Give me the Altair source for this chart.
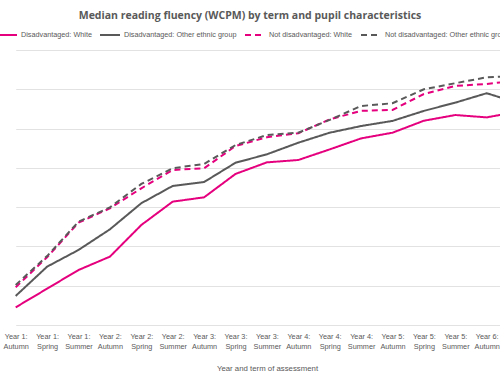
import altair as alt
import pandas as pd

# Assessment points (term of each school year)
terms = [
    "Year 1: Autumn", "Year 1: Spring", "Year 1: Summer",
    "Year 2: Autumn", "Year 2: Spring", "Year 2: Summer",
    "Year 3: Autumn", "Year 3: Spring", "Year 3: Summer",
    "Year 4: Autumn", "Year 4: Spring", "Year 4: Summer",
    "Year 5: Autumn", "Year 5: Spring", "Year 5: Summer",
    "Year 6: Autumn", "Year 6: Spring",
]

series_names = [
    "Disadvantaged: White",
    "Disadvantaged: Other ethnic group",
    "Not disadvantaged: White",
    "Not disadvantaged: Other ethnic group",
]

# Median words correct per minute for each group
dis_white = [9.0, 18.5, 28.0, 34.8, 50.9, 62.8, 65.0, 76.9, 82.8, 84.0, 89.4, 95.0, 97.9, 104.0, 106.9, 105.7, 108.6]
dis_other = [14.8, 29.7, 38.2, 48.7, 62.0, 70.8, 72.8, 82.6, 86.9, 92.8, 97.9, 101.3, 103.9, 109.0, 113.2, 118.0, 113.0]
not_white = [19.2, 34.5, 52.1, 59.4, 69.6, 78.9, 79.8, 91.1, 95.6, 97.6, 104.7, 109.0, 109.5, 117.6, 121.7, 122.7, 124.5]
not_other = [20.4, 35.1, 52.6, 59.9, 71.8, 79.8, 82.0, 91.6, 96.7, 97.9, 104.4, 111.5, 112.9, 120.0, 123.1, 126.1, 126.9]

y_grid = [0, 20, 40, 60, 80, 100, 120, 140]

line_colors = ["#E5007E", "#595959", "#E5007E", "#595959"]
line_dashes = [[1, 0], [1, 0], [6, 4], [6, 4]]

rows = []
for name, values in zip(series_names, [dis_white, dis_other, not_white, not_other]):
    for term, v in zip(terms, values):
        rows.append({"term": term, "series": name, "wcpm": v})
df = pd.DataFrame(rows)

TEXT = "#595959"
LABEL_FONT = "Liberation Sans"

legend = alt.Legend(
    title=None,
    orient="none",
    direction="horizontal",
    legendX=-4,
    legendY=-26,
    columns=4,
    columnPadding=4,
    gridAlign="none",
    padding=0,
    symbolType="stroke",
    symbolSize=400,
    symbolStrokeWidth=2,
    labelOffset=3,
    labelFont=LABEL_FONT,
    labelFontSize=7.25,
    labelColor=TEXT,
    labelLimit=300,
)

chart = (
    alt.Chart(df)
    .mark_line(strokeWidth=2, clip=True)
    .encode(
        x=alt.X(
            "term:O",
            sort=terms,
            scale=alt.Scale(type="point", domain=terms, range=[15.7, 15.7 + 16 * 31.4], padding=0),
            axis=alt.Axis(
                title="Year and term of assessment",
                labelAngle=0,
                labelExpr="[slice(datum.label, 0, 7), slice(datum.label, 8)]",
                labelFont=LABEL_FONT,
                labelFontSize=7.3,
                labelColor=TEXT,
                labelLineHeight=10,
                labelPadding=7,
                labelBaseline="top",
                ticks=False,
                domain=False,
                grid=False,
                titleFont=LABEL_FONT,
                titleFontSize=7.8,
                titleFontWeight="normal",
                titleColor=TEXT,
                titleX=267,
                titleY=43,
                titleAnchor="start",
                titleAlign="center",
                titleBaseline="middle",
            ),
        ),
        y=alt.Y(
            "wcpm:Q",
            scale=alt.Scale(domain=[0, 140], nice=False, zero=True),
            axis=alt.Axis(
                values=y_grid,
                labels=False,
                ticks=False,
                domain=False,
                title=None,
                grid=True,
                gridColor="#e2e2e2",
                gridWidth=1,
            ),
        ),
        color=alt.Color("series:N", scale=alt.Scale(domain=series_names, range=line_colors), legend=legend),
        strokeDash=alt.StrokeDash("series:N", scale=alt.Scale(domain=series_names, range=line_dashes), legend=legend),
    )
    .properties(
        width=500,
        height=275,
        padding={"left": 0, "top": 50, "right": 0, "bottom": 58},
        autosize=alt.AutoSizeParams(type="none"),
        background="white",
        title=alt.Title(
            "Median reading fluency (WCPM) by term and pupil characteristics",
            font="Open Sans",
            fontSize=10.5,
            fontWeight="bold",
            color=TEXT,
            anchor="middle",
            offset=3,
        ),
    )
    .configure_view(stroke=None)
)

chart.save("out.html", embed_options={"renderer": "svg", "actions": False})
